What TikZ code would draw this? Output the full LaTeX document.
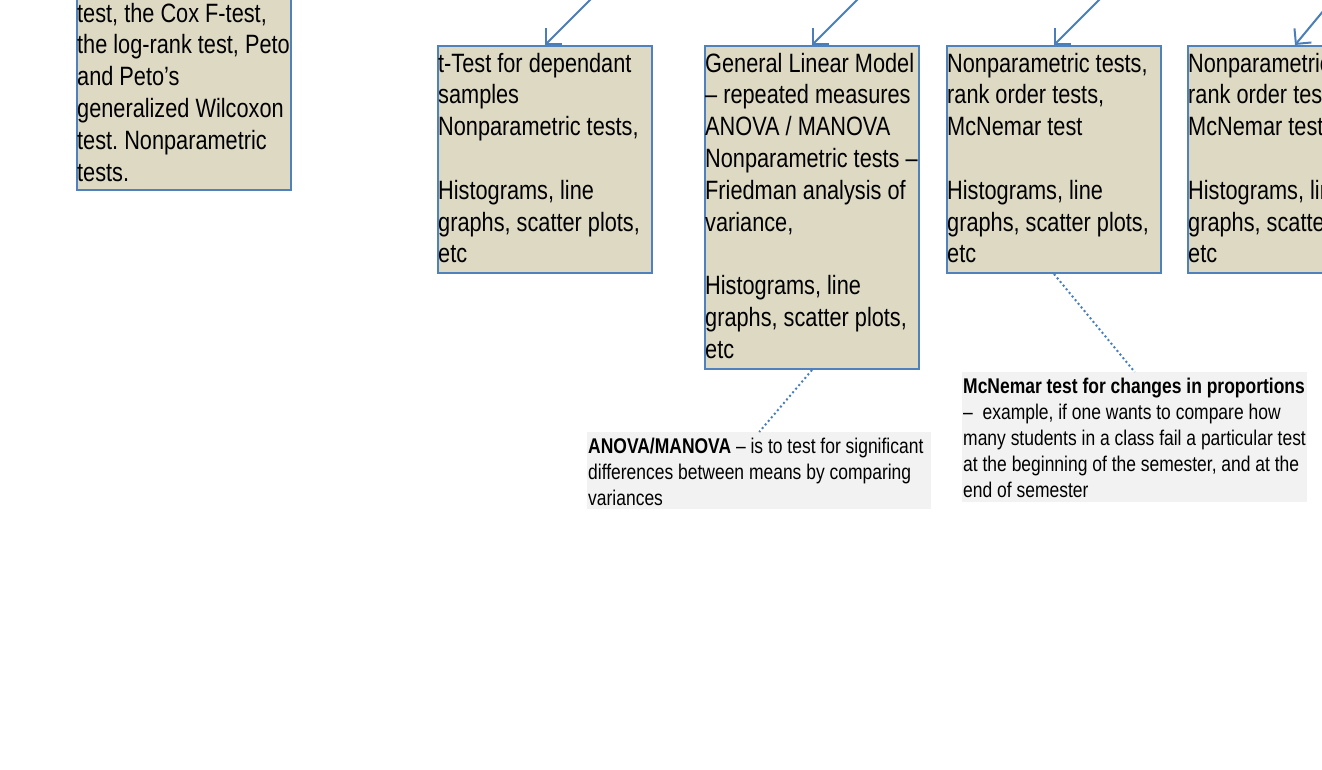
\documentclass[tikz,border=0pt]{standalone}
\usepackage{fontspec}
\setmainfont[FakeStretch=0.82]{Liberation Sans}
\usetikzlibrary{arrows.meta,calc}
\frenchspacing

\definecolor{boxfill}{HTML}{DDD9C3}
\definecolor{boxline}{HTML}{4F81BD}
\definecolor{notefill}{HTML}{F2F2F2}
\definecolor{linkblue}{HTML}{4A7EBB}

\begin{document}
\begin{tikzpicture}[x=1pt,y=-1pt,
  testbox/.style={draw=boxline, fill=boxfill, line width=2pt, inner sep=0pt,
    anchor=north west, minimum width=214pt},
  boxtext/.style={inner sep=0pt, anchor=north west,
    font=\fontsize{26.5}{31.8}\selectfont},
  notebox/.style={fill=notefill, inner sep=0pt, anchor=north west},
  notetext/.style={inner sep=0pt, anchor=north west,
    font=\fontsize{21.3}{26}\selectfont},
  feed/.style={draw=linkblue, line width=2pt,
    -{Straight Barb[length=11pt,width=22pt,line width=2pt]}},
  notelink/.style={draw=linkblue, line width=2pt, dash pattern=on 2pt off 2.7pt}]

\useasboundingbox (0,0) rectangle (1322,770);
\clip (0,0) rectangle (1322,770);

% test boxes
\node[testbox, minimum height=289pt] (b1) at (76,-100) {};
\node[testbox, minimum height=227pt] (b2) at (437,45) {};
\node[testbox, minimum height=323pt] (b3) at (704,45) {};
\node[testbox, minimum height=227pt] (b4) at (946,45) {};
\node[testbox, minimum height=227pt] (b5) at (1187,45) {};

% box texts
\node[boxtext] (t1) at (77,-0.3) {\parbox[t]{300pt}{\strut
  test, the Cox F-test,\\
  the log-rank test, Peto\\
  and Peto’s\\
  generalized Wilcoxon\\
  test. Nonparametric\\
  tests.}};
\node[boxtext] (t2) at (438,49.7) {\parbox[t]{300pt}{\strut
  t-Test for dependant\\
  samples\\
  Nonparametric tests,\\
  \mbox{}\\
  Histograms, line\\
  graphs, scatter plots,\\
  etc}};
\node[boxtext] (t3) at (705,49.7) {\parbox[t]{300pt}{\strut
  General Linear Model\\
  – repeated measures\\
  ANOVA / MANOVA\\
  Nonparametric tests –\\
  Friedman analysis of\\
  variance,\\
  \mbox{}\\
  Histograms, line\\
  graphs, scatter plots,\\
  etc}};
\node[boxtext] (t4) at (947,49.7) {\parbox[t]{300pt}{\strut
  Nonparametric tests,\\
  rank order tests,\\
  McNemar test\\
  \mbox{}\\
  Histograms, line\\
  graphs, scatter plots,\\
  etc}};
\node[boxtext] (t5) at (1188,49.7) {\parbox[t]{300pt}{\strut
  Nonparametric tests,\\
  rank order tests,\\
  McNemar test\\
  \mbox{}\\
  Histograms, line\\
  graphs, scatter plots,\\
  etc}};

% incoming arrows from above
\coordinate (s2) at (592,-2);
\coordinate (s3) at (859,-2);
\coordinate (s4) at (1101,-2);
\coordinate (s5) at (1334,-2);
\draw[feed] (s2) -- (b2.north);
\draw[feed] (s3) -- (b3.north);
\draw[feed] (s4) -- (b4.north);
\draw[feed] (s5) -- (b5.north);

% callout notes
\node[notebox, minimum width=344pt, minimum height=77pt] (c1) at (587,432) {};
\node[notebox, minimum width=345pt, minimum height=130pt] (c2) at (962,372) {};
\node[notetext] (n1) at (588,434.6) {\parbox[t]{400pt}{\strut
  \textbf{ANOVA/MANOVA} – is to test for significant\\
  differences between means by comparing\\
  variances}};
\node[notetext] (n2) at (963,374.6) {\parbox[t]{400pt}{\strut
  \textbf{McNemar test for changes in proportions}\\
  –~ example, if one wants to compare how\\
  many students in a class fail a particular test\\
  at the beginning of the semester, and at the\\
  end of semester}};

% dotted links to the notes
\draw[notelink] (b3.south) -- (c1.north);
\draw[notelink] (b4.south) -- (c2.north);
\end{tikzpicture}
\end{document}
